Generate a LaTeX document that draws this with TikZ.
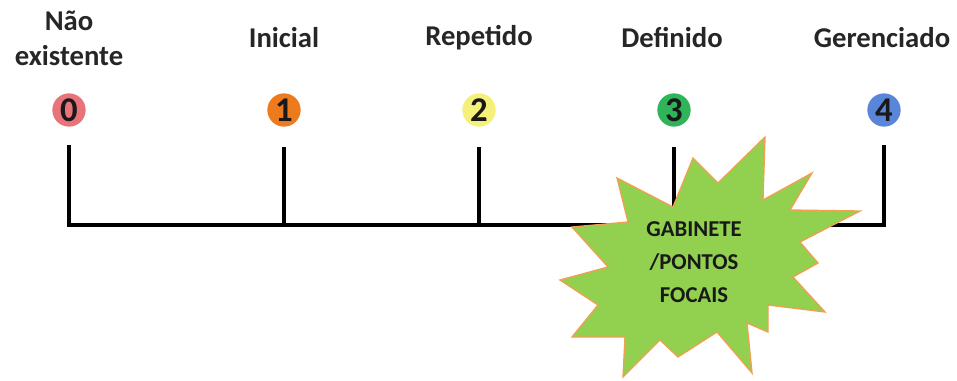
\documentclass[tikz,border=0pt]{standalone}
\usepackage{fontspec}
\setmainfont{Carlito}
\definecolor{c0}{HTML}{E8737A}
\definecolor{c1}{HTML}{EE7A1E}
\definecolor{c2}{HTML}{F4F07A}
\definecolor{c3}{HTML}{2FB45A}
\definecolor{c4}{HTML}{5A86DA}
\definecolor{starfill}{HTML}{92D050}
\definecolor{staredge}{HTML}{F0A050}
\begin{document}
\begin{tikzpicture}[x=0.75pt,y=-0.75pt,
  lvl/.style={circle,minimum size=25pt,inner sep=0pt,font=\fontsize{26}{26}\selectfont\bfseries,text=black!90},
  lab/.style={font=\fontsize{21.5}{26}\selectfont\bfseries,text=black!85,align=center},
  bar/.style={line width=3pt,black},
  startext/.style={font=\fontsize{17}{25}\selectfont\bfseries,text=black!90,align=center}]
\useasboundingbox (0,0) rectangle (957,380);
% circles
\node[lvl,fill=c0] (n0) at (69,110) {0};
\node[lvl,fill=c1] (n1) at (284,110) {1};
\node[lvl,fill=c2] (n2) at (479,110) {2};
\node[lvl,fill=c3] (n3) at (674,110) {3};
\node[lvl,fill=c4] (n4) at (884,110) {4};
% labels
\node[lab] (l0) at (69,38) {Não\\existente};
\node[lab] (l1) at (284,38) {Inicial};
\node[lab] (l2) at (479,38) {Repetido};
\node[lab] (l3) at (672,38) {Definido};
\node[lab] (l4) at (882,38) {Gerenciado};
% timeline
\coordinate (b0) at (69,225);
\coordinate (b1) at (284,225);
\coordinate (b2) at (479,225);
\coordinate (b3) at (674,225);
\coordinate (b4) at (884,225);
\coordinate (t0) at (69,147);
\coordinate (t1) at (284,147);
\coordinate (t2) at (479,147);
\coordinate (t3) at (674,147);
\coordinate (t4) at (884,147);
\draw[bar,line cap=rect] (t0) -- (b0) -- (b4) -- (t4);
\draw[bar] (t1) -- (b1);
\draw[bar] (t2) -- (b2);
\draw[bar] (t3) -- (b3);
% star
\draw[fill=starfill,draw=staredge,line width=1pt,line join=miter]
  (765,137) -- (763,200) -- (812,173) -- (790,210) -- (860,211) -- (800,242)
  -- (818,263) -- (793,277) -- (825,312) -- (768,305) -- (768,332) -- (747,323)
  -- (752,373) -- (717,332) -- (678,357) -- (660,340) -- (623,377) -- (625,337)
  -- (572,337) -- (598,305) -- (560,280) -- (608,267) -- (572,227) -- (628,222)
  -- (617,178) -- (673,207) -- (693,158) -- (718,183) -- cycle;
\node[startext] (star) at (694,262) {GABINETE\\/PONTOS\\FOCAIS};
\end{tikzpicture}
\end{document}
